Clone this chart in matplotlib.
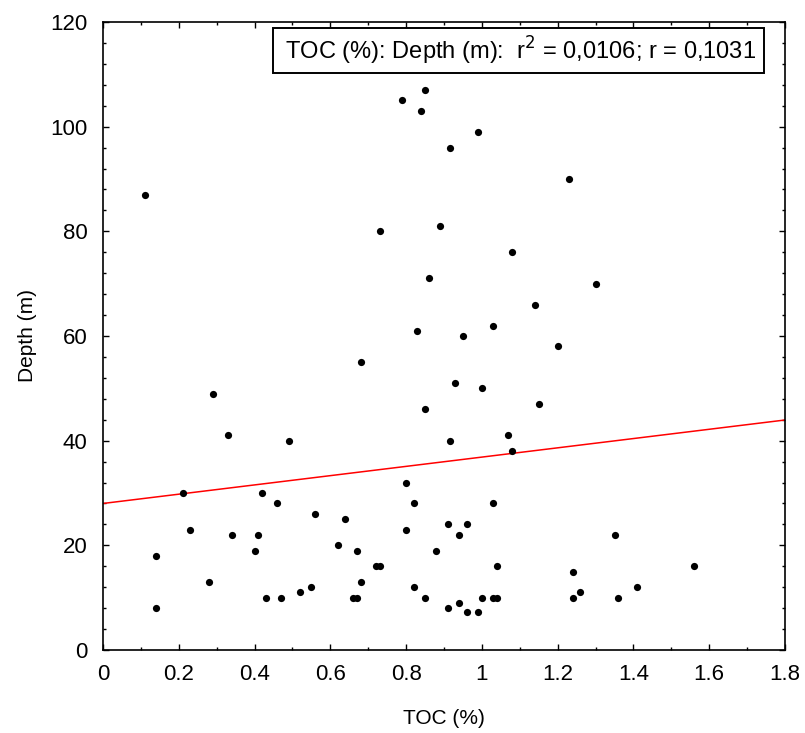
import matplotlib
matplotlib.use("Agg")
import matplotlib.pyplot as plt
import numpy as np
from matplotlib.ticker import MultipleLocator

plt.rcParams['font.family'] = ['Liberation Sans', 'DejaVu Sans']

toc = [0.11, 0.79, 0.85, 0.84, 0.915, 0.73, 0.89, 0.86, 0.83, 0.99, 1.23, 1.08, 1.30,
       1.14, 1.03, 0.68, 0.29, 0.85, 0.33, 0.49, 0.915, 0.80, 0.21, 0.42, 0.46, 0.82,
       0.56, 0.64, 0.91, 0.23, 0.80, 0.34, 0.41, 0.62, 0.40, 0.67, 0.88, 0.14, 0.72,
       0.73, 0.28, 0.68, 0.55, 0.82, 0.52, 0.43, 0.47, 0.66, 0.67, 0.85, 0.14, 0.91,
       0.95, 1.20, 0.93, 1.00, 1.15, 1.07, 1.08, 1.03, 0.96, 0.94, 1.35, 1.04, 1.56,
       1.24, 1.41, 1.26, 1.00, 1.03, 1.04, 1.24, 1.36, 0.94, 0.96, 0.99]
depth = [87, 105, 107, 103, 96, 80, 81, 71, 61, 99, 90, 76, 70,
         66, 62, 55, 49, 46, 41, 40, 40, 32, 30, 30, 28, 28,
         26, 25, 24, 23, 23, 22, 22, 20, 19, 19, 19, 18, 16,
         16, 13, 13, 12, 12, 11, 10, 10, 10, 10, 10, 8, 8,
         60, 58, 51, 50, 47, 41, 38, 28, 24, 22, 22, 16, 16,
         15, 12, 11, 10, 10, 10, 10, 10, 9, 7.2, 7.2]

fit_intercept = 28.0
fit_slope = 8.86
annotation = " TOC (%): Depth (m):  r$^2$ = 0,0106; r = 0,1031 "
x_ticklabels = ['0', '0.2', '0.4', '0.6', '0.8', '1', '1.2', '1.4', '1.6', '1.8']

fig = plt.figure(figsize=(8.05, 7.33), dpi=100)
ax = fig.add_axes([103/805, 1 - 650/733, 682/805, 628/733])

ax.scatter(toc, depth, s=27, color='black', zorder=3, linewidths=0)
xs = np.array([0, 1.8])
ax.plot(xs, fit_intercept + fit_slope * xs, color='red', lw=1.1, zorder=2)

ax.set_xlim(0, 1.8)
ax.set_ylim(0, 120)
ax.xaxis.set_minor_locator(MultipleLocator(0.1))
ax.yaxis.set_major_locator(MultipleLocator(20))
ax.yaxis.set_minor_locator(MultipleLocator(4))
ax.set_xticks(np.arange(0, 1.81, 0.2))
ax.set_xticklabels(x_ticklabels)

ax.tick_params(which='both', direction='in', top=True, right=True, labelsize=16, width=1.0)
ax.tick_params(which='major', length=4)
ax.tick_params(which='minor', length=2.5)
ax.tick_params(axis='x', which='major', pad=10)
ax.tick_params(axis='y', which='major', pad=11)
for s in ax.spines.values():
    s.set_linewidth(1.2)

ax.set_xlabel('TOC (%)', fontsize=15, labelpad=17)
ax.set_ylabel('Depth (m)', fontsize=15, labelpad=10)

ax.text(0.609, 0.9546, annotation, transform=ax.transAxes, ha='center', va='center',
        fontsize=17, bbox=dict(boxstyle='square,pad=0.28', fc='white', ec='black', lw=1.4))

fig.savefig('out.png', dpi=100)
